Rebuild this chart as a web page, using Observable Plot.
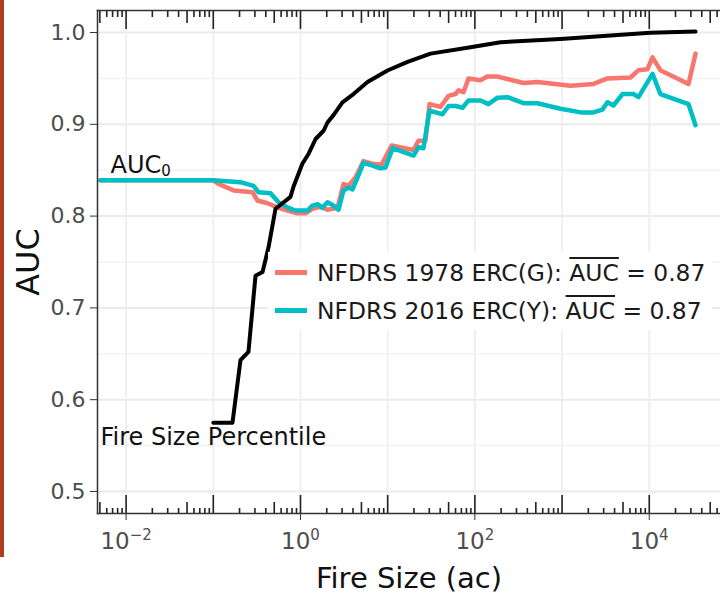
<!DOCTYPE html>
<html><head><meta charset="utf-8">
<script src="https://cdn.jsdelivr.net/npm/d3@7"></script>
<script src="https://cdn.jsdelivr.net/npm/@observablehq/plot@0.6"></script>
<style>
body{margin:0;background:#fff;font-family:"DejaVu Sans",sans-serif;}
#wrap{position:relative;width:720px;height:598px;overflow:hidden;}
#bar{position:absolute;left:0;top:0;width:4px;height:557px;background:#b23c1f;}
#legend{position:absolute;left:268px;top:252px;width:444px;height:78px;background:#fff;box-sizing:border-box;padding-top:2px;}
.row{height:38px;line-height:38px;font-size:23.4px;color:#1a1a1a;white-space:nowrap;}
.sw{display:inline-block;width:32px;height:5px;vertical-align:middle;margin-left:7px;margin-right:10px;position:relative;top:-2px;}
.ov{text-decoration:overline;text-decoration-thickness:2px;}
</style></head>
<body><div id="wrap"><div id="chart"></div><div id="bar"></div><div id="legend"></div></div>
<script>
// ---- data ----
const seriesNames = ["NFDRS 1978 ERC(G)", "NFDRS 2016 ERC(Y)"];
const seriesColors = ["#F8766D", "#00BFC4"];
const meanAUC = [0.87, 0.87];

const fireSize1978 = [0.00508, 0.1, 0.115, 0.171, 0.282, 0.321, 0.418, 0.560, 0.710, 0.924, 1.14, 1.37, 1.70, 2.04, 2.66, 3.11, 3.55, 4.27, 5.28, 6.70, 8.49, 11.1, 19.8, 22.5, 27.1, 30.2, 40.3, 49.8, 59.9, 64.9, 74.0, 84.5, 116, 139, 182, 361, 522, 1250, 2290, 3320, 6090, 7520, 9530, 10900, 13400, 28200, 33900];
const auc1978 = [0.839, 0.839, 0.835, 0.828, 0.826, 0.817, 0.814, 0.809, 0.806, 0.803, 0.803, 0.808, 0.810, 0.807, 0.809, 0.835, 0.833, 0.842, 0.860, 0.857, 0.856, 0.877, 0.872, 0.882, 0.882, 0.922, 0.919, 0.931, 0.933, 0.937, 0.935, 0.950, 0.948, 0.952, 0.952, 0.945, 0.946, 0.942, 0.944, 0.950, 0.951, 0.959, 0.960, 0.973, 0.959, 0.944, 0.977];

const fireSize2016 = [0.00508, 0.1, 0.205, 0.289, 0.330, 0.453, 0.560, 0.728, 0.877, 1.20, 1.37, 1.57, 1.79, 2.04, 2.39, 2.73, 3.11, 3.55, 3.95, 4.51, 5.28, 6.70, 8.27, 9.44, 11.4, 19.8, 22.5, 25.7, 30.2, 42.5, 49.8, 59.9, 72.1, 84.5, 116, 143, 182, 237, 361, 522, 959, 1630, 2290, 2900, 3320, 3880, 4930, 6590, 7520, 10900, 13400, 28200, 33900];
const auc2016 = [0.839, 0.839, 0.837, 0.833, 0.826, 0.825, 0.815, 0.809, 0.806, 0.806, 0.8115, 0.813, 0.809, 0.815, 0.8115, 0.807, 0.828, 0.831, 0.829, 0.842, 0.858, 0.855, 0.852, 0.853, 0.874, 0.866, 0.875, 0.874, 0.915, 0.911, 0.920, 0.920, 0.918, 0.926, 0.926, 0.922, 0.929, 0.9296, 0.923, 0.923, 0.917, 0.913, 0.913, 0.916, 0.924, 0.9205, 0.933, 0.933, 0.9296, 0.955, 0.933, 0.922, 0.899];

const fireSizePct = [0.1, 0.166, 0.205, 0.253, 0.305, 0.367, 0.430, 0.517, 0.768, 0.831, 1.05, 1.24, 1.49, 1.84, 2.04, 2.39, 3.03, 4.05, 5.87, 9.95, 16.9, 31.0, 89.1, 197, 959, 3590, 10300, 33900];
const pctCurve = [0.575, 0.575, 0.643, 0.652, 0.735, 0.739, 0.766, 0.808, 0.821, 0.832, 0.857, 0.868, 0.884, 0.893, 0.902, 0.910, 0.924, 0.933, 0.946, 0.9586, 0.968, 0.977, 0.984, 0.9895, 0.993, 0.9967, 0.9997, 1.001];

const xTicks = [1e-2, 1, 1e2, 1e4];
const xTickBase = "10";
const xTickExponents = ["-2", "0", "2", "4"];
const xMinorGrid = [1e-1, 1e1, 1e3];
const yTicks = [0.5, 0.6, 0.7, 0.8, 0.9, 1.0];
const yMinorGrid = [0.55, 0.65, 0.75, 0.85, 0.95];
const xDomain = [Math.pow(10, -2.328), Math.pow(10, 4.817)];
const yDomain = [0.476, 1.024];

const annotations = [
  {x: 0.00662, y: 0.8475, label: "AUC", sub: "0"},
  {x: 0.00508, y: 0.551, label: "Fire Size Percentile", sub: ""}
];

// ---- derived tables ----
const toRows = (xs, ys) => xs.map((x, i) => ({x, y: ys[i]}));
const r1978 = toRows(fireSize1978, auc1978);
const r2016 = toRows(fireSize2016, auc2016);
const rPct = toRows(fireSizePct, pctCurve);

const digits = [1,2,3,4,5,6,7,8,9];
const decades = [-3,-2,-1,0,1,2,3,4,5];
const allLog = decades.flatMap(k => digits.map(d => ({v: d * Math.pow(10, k), d})))
  .filter(o => o.v >= xDomain[0] && o.v <= xDomain[1]);
const logLong = allLog.filter(o => o.d === 1).map(o => o.v);
const logMid = allLog.filter(o => o.d === 5).map(o => o.v);
const logShort = allLog.filter(o => o.d !== 1 && o.d !== 5).map(o => o.v);

const tickColor = "#222";
const logAxis = (anchor, ticks, size) => Plot.axisX({anchor, ticks, tickSize: -size, text: null, label: null, stroke: tickColor, strokeWidth: 1.6});

const chart = Plot.plot({
  width: 720, height: 598,
  marginLeft: 97, marginRight: 0, marginTop: 10, marginBottom: 85,
  style: {fontFamily: "DejaVu Sans, sans-serif", background: "transparent"},
  x: {type: "log", domain: xDomain},
  y: {domain: yDomain},
  marks: [
    Plot.gridY(yMinorGrid, {stroke: "#f2f2f2", strokeOpacity: 1, strokeWidth: 1.5}),
    Plot.gridX(xMinorGrid, {stroke: "#f0f0f0", strokeOpacity: 1, strokeWidth: 2}),
    Plot.gridY(yTicks, {stroke: "#ebebeb", strokeOpacity: 1, strokeWidth: 2}),
    Plot.gridX(xTicks, {stroke: "#efefef", strokeOpacity: 1, strokeWidth: 2}),
    Plot.line(r1978, {x: "x", y: "y", stroke: seriesColors[0], strokeWidth: 4.5}),
    Plot.line(r2016, {x: "x", y: "y", stroke: seriesColors[1], strokeWidth: 4.5}),
    Plot.line(rPct, {x: "x", y: "y", stroke: "#000", strokeWidth: 4}),
    Plot.text(annotations, {x: "x", y: "y", text: d => d.label + d.sub, textAnchor: "start", lineAnchor: "bottom", fontSize: 24, fill: "#111"}),
    Plot.frame({anchor: "left", stroke: "#333", strokeWidth: 1.5}),
    Plot.frame({anchor: "top", stroke: "#333", strokeWidth: 1.5}),
    Plot.frame({anchor: "bottom", stroke: "#333", strokeWidth: 1.5}),
    logAxis("bottom", logLong, 18), logAxis("bottom", logMid, 11), logAxis("bottom", logShort, 5),
    logAxis("top", logLong, 18), logAxis("top", logMid, 12), logAxis("top", logShort, 6),
    Plot.axisX({anchor: "bottom", ticks: xTicks, tickFormat: d => xTickBase + "^" + xTickExponents[xTicks.indexOf(d)], tickSize: 7, tickPadding: 12, fontSize: 23, color: "#4d4d4d", stroke: "#333", label: null}),
    Plot.axisY({anchor: "left", ticks: yTicks, tickFormat: d3.format(".1f"), tickSize: 7, tickPadding: 5, fontSize: 22, color: "#4d4d4d", stroke: "#333", label: null}),
    Plot.text(["Fire Size (ac)"], {frameAnchor: "bottom", dy: 65, textAnchor: "middle", lineAnchor: "middle", fontSize: 29, fill: "#111"}),
    Plot.text(["AUC"], {frameAnchor: "left", dx: -69, rotate: -90, textAnchor: "middle", lineAnchor: "middle", fontSize: 32, fill: "#111"})
  ]
});
document.getElementById("chart").appendChild(chart);

// superscripts on x tick labels
const NS = "http://www.w3.org/2000/svg";
chart.querySelectorAll("text").forEach(t => {
  const s = t.textContent;
  if (s.startsWith("10^")) {
    const exp = s.slice(3).replace("-", "\u2212");
    t.textContent = "";
    const a = document.createElementNS(NS, "tspan"); a.textContent = "10";
    const b = document.createElementNS(NS, "tspan"); b.textContent = exp;
    b.setAttribute("font-size", "15"); b.setAttribute("dy", "-9");
    t.appendChild(a); t.appendChild(b);
  }
});
// subscript in annotation
annotations.filter(a => a.sub).forEach(a => {
  chart.querySelectorAll("text").forEach(t => {
    if (t.textContent === a.label + a.sub) {
      t.textContent = "";
      const m = document.createElementNS(NS, "tspan"); m.textContent = a.label;
      const s = document.createElementNS(NS, "tspan"); s.textContent = a.sub;
      s.setAttribute("font-size", "15"); s.setAttribute("dy", "3");
      t.appendChild(m); t.appendChild(s);
    }
  });
});

// ---- legend ----
const legend = document.getElementById("legend");
seriesNames.forEach((name, i) => {
  const row = document.createElement("div");
  row.className = "row";
  row.innerHTML = `<span class="sw" style="background:${seriesColors[i]}"></span>${name}: <span class="ov">AUC</span> = ${meanAUC[i].toFixed(2)}`;
  legend.appendChild(row);
});
</script></body></html>
